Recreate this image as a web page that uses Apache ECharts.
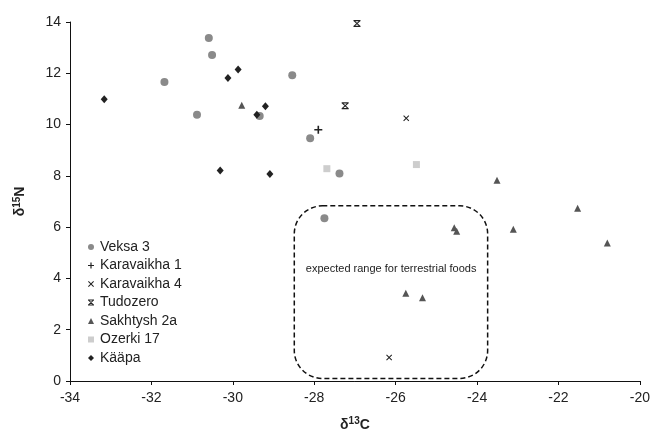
<!DOCTYPE html>
<html><head><meta charset="utf-8">
<script src="https://cdn.jsdelivr.net/npm/echarts@6/dist/echarts.min.js"></script>
<style>html,body{margin:0;padding:0;background:#fff}#c{width:653px;height:437px}</style>
</head><body><div id="c"></div>
<script>
const seriesNames = ['Veksa 3','Karavaikha 1','Karavaikha 4','Tudozero','Sakhtysh 2a','Ozerki 17','Kääpa'];
const veksaX = [-30.59,-30.51,-28.54,-31.68,-30.88,-29.34,-28.10,-27.38,-27.75];
const veksaY = [13.38,12.71,11.92,11.66,10.38,10.33,9.47,8.09,6.35];
const kara1X = [-27.90];
const kara1Y = [9.80];
const kara4X = [-25.74,-26.16];
const kara4Y = [10.25,0.92];
const tudoX = [-26.95,-27.24];
const tudoY = [13.94,10.73];
const sakhX = [-29.78,-23.51,-21.53,-24.56,-24.50,-23.11,-20.80,-25.75,-25.34];
const sakhY = [10.75,7.83,6.74,5.98,5.84,5.92,5.38,3.42,3.25];
const ozerX = [-27.69,-25.49];
const ozerY = [8.28,8.44];
const kaapX = [-29.87,-30.12,-33.16,-29.20,-29.41,-30.31,-29.09];
const kaapY = [12.15,11.82,10.99,10.71,10.38,8.21,8.07];
const xTicks = [-34,-32,-30,-28,-26,-24,-22,-20];
const yTicks = [0,2,4,6,8,10,12,14];
const boxCorners = [[-28.49,6.83],[-23.74,0.10]];
const boxLabel = 'expected range for terrestrial foods';
const boxLabelPos = [-26.11,4.35];

const zip = (xs,ys)=>xs.map((x,i)=>[x,ys[i]]);
const FONT = '"Liberation Sans", Arial, sans-serif';
const PLUS = 'path://M4,0H6V4H10V6H6V10H4V6H0V4H4Z';
const CROSS = 'path://M1.2,0L5,3.8L8.8,0L10,1.2L6.2,5L10,8.8L8.8,10L5,6.2L1.2,10L0,8.8L3.8,5L0,1.2Z';
const TUDO = 'path://M0,0H10V1.8H0Z M0,8.2H10V10H0Z M0.4,1.8H2.6L9.6,8.2H7.4Z M7.4,1.8H9.6L2.6,8.2H0.4Z';

const defs = [
  {d:zip(veksaX,veksaY), sym:'circle', size:8, color:'#8a8a8a'},
  {d:zip(kara1X,kara1Y), sym:PLUS, size:8, color:'#222'},
  {d:zip(kara4X,kara4Y), sym:CROSS, size:6, color:'#222'},
  {d:zip(tudoX,tudoY), sym:TUDO, size:7, color:'#222'},
  {d:zip(sakhX,sakhY), sym:'triangle', size:7, color:'#555'},
  {d:zip(ozerX,ozerY), sym:'rect', size:7, color:'#cdcdcd'},
  {d:zip(kaapX,kaapY), sym:'diamond', size:[7,8], color:'#222'}
];

const chart = echarts.init(document.getElementById('c'), null, {renderer:'canvas'});
const axisCommon = {
  axisLine:{show:true, onZero:false, lineStyle:{color:'#111', width:1}},
  axisTick:{show:true, length:4, lineStyle:{color:'#111'}},
  splitLine:{show:false},
  axisLabel:{color:'#222', fontSize:14, fontFamily:FONT}
};
chart.setOption({
  animation:false,
  grid:{left:70, right:12, top:22, bottom:54},
  xAxis:Object.assign({type:'value', min:xTicks[0], max:xTicks[xTicks.length-1], interval:2,
    name:'{d|δ}{s|13}{d|C}', nameLocation:'middle', nameGap:35,
    nameTextStyle:{rich:{d:{fontSize:14,fontWeight:'bold',fontFamily:FONT,color:'#222',verticalAlign:'bottom'},
                         s:{fontSize:10,fontWeight:'bold',fontFamily:FONT,color:'#222',verticalAlign:'top',padding:[0,0,6,0]}}}
  }, axisCommon, {axisLabel:Object.assign({}, axisCommon.axisLabel, {margin:10})}),
  yAxis:Object.assign({type:'value', min:yTicks[0], max:yTicks[yTicks.length-1], interval:2,
    name:'{d|δ}{s|15}{d|N}', nameLocation:'middle', nameGap:42, nameRotate:90,
    nameTextStyle:{rich:{d:{fontSize:14,fontWeight:'bold',fontFamily:FONT,color:'#222'},
                         s:{fontSize:10,fontWeight:'bold',fontFamily:FONT,color:'#222',padding:[0,0,6,0]}}}
  }, axisCommon, {axisLabel:Object.assign({}, axisCommon.axisLabel, {margin:9})}),
  legend:{orient:'vertical', left:83, top:235, itemWidth:6, itemHeight:6, itemGap:4.5,
    textStyle:{fontSize:14, fontFamily:FONT, color:'#222', lineHeight:14, padding:[0,0,0,1]}, itemStyle:{borderWidth:0},
    data:seriesNames.map((n,i)=>({name:n, icon:defs[i].sym}))},
  series:defs.map((s,i)=>({name:seriesNames[i], type:'scatter', data:s.d, symbol:s.sym, symbolSize:s.size,
    itemStyle:{color:s.color, opacity:1}, z:3}))
});

function drawBox(){
  const p1 = chart.convertToPixel({gridIndex:0}, boxCorners[0]);
  const p2 = chart.convertToPixel({gridIndex:0}, boxCorners[1]);
  const lp = chart.convertToPixel({gridIndex:0}, boxLabelPos);
  chart.setOption({graphic:[
    {type:'rect', shape:{x:p1[0], y:p1[1], width:p2[0]-p1[0], height:p2[1]-p1[1], r:28},
     style:{fill:'none', stroke:'#111', lineWidth:1.5, lineDash:[5,3]}, z:2},
    {type:'text', x:lp[0], y:lp[1], style:{text:boxLabel, fill:'#222', font:'11px '+FONT, align:'center', verticalAlign:'middle'}, z:2}
  ]});
}
drawBox();
</script></body></html>
